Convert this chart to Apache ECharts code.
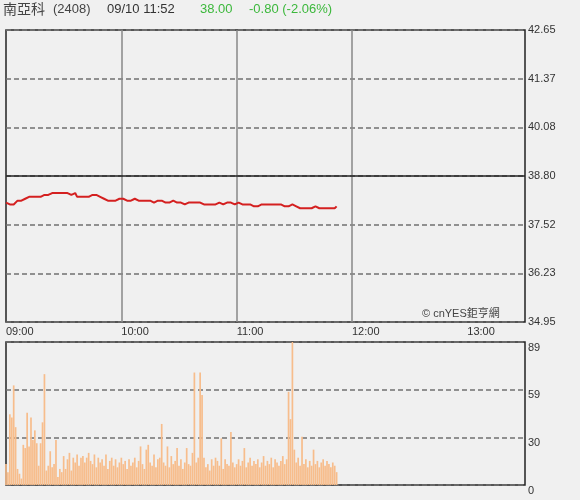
<!DOCTYPE html>
<html>
<head>
<meta charset="utf-8">
<script src="https://cdn.jsdelivr.net/npm/echarts@6/dist/echarts.min.js"></script>
<style>
html,body{margin:0;padding:0;background:#f0f0f0;}
#c{width:580px;height:500px;}
</style>
</head>
<body>
<div id="c"></div>
<script>
// Tick labels (one every 60 minutes from 09:00)
var timeLabels = ['09:00', '10:00', '11:00', '12:00', '13:00'];
var sessionMinutes = 270;          // 09:00 - 13:30
var hourLines = [60, 120, 180];    // vertical grid lines (10:00, 11:00, 12:00)

var prevClose = 38.80;
var priceMin = 34.95;
var priceMax = 42.65;
var volMax = 89;

// Per-minute last price, from 09:00 to 11:52
var price = [
  38.10, 38.10, 38.05, 38.10, 38.05, 38.10, 38.15, 38.15, 38.15, 38.20,
  38.20, 38.20, 38.25, 38.20, 38.25, 38.25, 38.25, 38.30, 38.25, 38.30,
  38.30, 38.30, 38.30, 38.30, 38.35, 38.30, 38.35, 38.35, 38.35, 38.35,
  38.35, 38.30, 38.35, 38.30, 38.30, 38.25, 38.35, 38.25, 38.30, 38.25,
  38.30, 38.25, 38.30, 38.25, 38.25, 38.30, 38.25, 38.30, 38.30, 38.25,
  38.20, 38.20, 38.20, 38.15, 38.20, 38.15, 38.15, 38.15, 38.15, 38.20,
  38.15, 38.20, 38.20, 38.15, 38.15, 38.15, 38.15, 38.20, 38.15, 38.15,
  38.15, 38.15, 38.10, 38.15, 38.10, 38.15, 38.10, 38.10, 38.15, 38.15,
  38.15, 38.15, 38.15, 38.10, 38.15, 38.10, 38.10, 38.15, 38.10, 38.10,
  38.10, 38.10, 38.10, 38.05, 38.10, 38.10, 38.05, 38.10, 38.05, 38.10,
  38.05, 38.10, 38.05, 38.05, 38.05, 38.05, 38.05, 38.05, 38.10, 38.05,
  38.05, 38.10, 38.10, 38.05, 38.10, 38.10, 38.05, 38.10, 38.10, 38.05,
  38.10, 38.10, 38.05, 38.05, 38.05, 38.05, 38.00, 38.05, 38.05, 38.00,
  38.05, 38.00, 38.00, 38.05, 38.05, 38.05, 38.10, 38.05, 38.05, 38.05,
  38.05, 38.05, 38.05, 38.05, 38.05, 38.00, 38.05, 38.00, 38.00, 38.05,
  38.00, 38.00, 38.00, 37.95, 38.00, 37.95, 37.95, 37.95, 38.00, 37.95,
  38.00, 38.00, 38.00, 37.95, 38.00, 37.95, 37.95, 37.95, 37.90, 37.95,
  37.95, 37.95, 38.00
];

// Per-minute volume
var volume = [
  13, 8, 44, 42, 62, 36, 10, 7, 4, 25,
  23, 45, 24, 42, 28, 34, 26, 12, 26, 39,
  69, 9, 12, 21, 11, 13, 28, 5, 10, 8,
  18, 10, 16, 20, 9, 17, 14, 19, 12, 17,
  18, 14, 17, 20, 15, 13, 19, 11, 17, 14,
  16, 12, 19, 10, 15, 17, 12, 16, 11, 14,
  17, 13, 15, 10, 16, 12, 14, 17, 11, 15,
  24, 13, 10, 22, 25, 14, 12, 19, 11, 16,
  17, 38, 14, 12, 24, 11, 18, 13, 15, 23,
  12, 16, 10, 14, 23, 13, 12, 20, 70, 14,
  17, 70, 56, 17, 11, 13, 9, 16, 12, 17,
  15, 12, 29, 10, 16, 13, 12, 33, 14, 11,
  13, 16, 12, 15, 23, 11, 14, 17, 12, 15,
  13, 16, 11, 14, 18, 12, 15, 13, 17, 11,
  16, 14, 12, 15, 18, 13, 16, 58, 41, 89,
  22, 14, 17, 12, 30, 13, 16, 11, 15, 12,
  22, 13, 15, 11, 14, 16, 12, 15, 13, 11,
  14, 12, 8
];

var FONT = '"Liberation Sans", Arial, "Noto Sans CJK TC", sans-serif';
var chart = echarts.init(document.getElementById('c'), null, {renderer: 'canvas'});

var option = {
  backgroundColor: '#f0f0f0',
  animation: false,
  textStyle: {fontFamily: FONT},
  graphic: [
    {type: 'text', left: 3, top: 2, style: {text: '南亞科', fontSize: 14, fill: '#444', fontFamily: '"Noto Sans CJK TC", sans-serif'}},
    {type: 'text', left: 53, top: 3, style: {text: '(2408)', fontSize: 13, fill: '#444', fontFamily: FONT}},
    {type: 'text', left: 107, top: 3, style: {text: '09/10 11:52', fontSize: 13, fill: '#333', fontFamily: FONT}},
    {type: 'text', left: 200, top: 3, style: {text: '38.00', fontSize: 13, fill: '#3cb83c', fontFamily: FONT}},
    {type: 'text', left: 249, top: 3, style: {text: '-0.80 (-2.06%)', fontSize: 13, fill: '#3cb83c', fontFamily: FONT}},
    {type: 'text', left: 422, top: 308, z: 100, style: {text: '© cnYES鉅亨網', fontSize: 11, fill: '#444', fontFamily: FONT}}
  ],
  grid: [
    {left: 6, top: 30, width: 519, height: 292, show: true, borderColor: '#222', borderWidth: 1.5, backgroundColor: 'transparent'},
    {left: 6, top: 342, width: 519, height: 143, show: true, borderColor: '#222', borderWidth: 1.5, backgroundColor: 'transparent'}
  ],
  xAxis: [
    {
      type: 'value', gridIndex: 0, min: 0, max: sessionMinutes, interval: 60,
      axisLine: {show: false}, axisTick: {show: false}, splitLine: {show: false},
      axisLabel: {
        show: true, align: 'left', margin: 4, color: '#333', fontSize: 11, fontFamily: FONT,
        showMaxLabel: false,
        formatter: function (v) { var i = Math.round(v / 60); return timeLabels[i] || ''; }
      }
    },
    {
      type: 'value', gridIndex: 1, min: 0, max: sessionMinutes, interval: 60,
      axisLine: {show: false}, axisTick: {show: false}, splitLine: {show: false}, axisLabel: {show: false}
    }
  ],
  yAxis: [
    {
      type: 'value', gridIndex: 0, position: 'right', min: priceMin, max: priceMax, interval: (priceMax - priceMin) / 6,
      axisLine: {show: false}, axisTick: {show: false},
      splitLine: {show: true, lineStyle: {color: '#707070', width: 1.5, type: [5, 3]}},
      axisLabel: {color: '#333', fontSize: 11, margin: 3, fontFamily: FONT, formatter: function (v) { return v.toFixed(2); }}
    },
    {
      type: 'value', gridIndex: 1, position: 'right', min: 0, max: volMax, interval: volMax / 3,
      axisLine: {show: false}, axisTick: {show: false},
      splitLine: {show: true, lineStyle: {color: '#707070', width: 1.5, type: [5, 3]}},
      axisLabel: {color: '#333', fontSize: 11, margin: 3, verticalAlign: 'top', fontFamily: FONT, formatter: function (v) { return String(Math.round(v)); }}
    }
  ],
  series: [
    {
      type: 'line', xAxisIndex: 0, yAxisIndex: 0,
      data: price.map(function (v, i) { return [i, v]; }),
      showSymbol: false, symbol: 'none',
      lineStyle: {color: '#d42020', width: 2},
      z: 5,
      markLine: {
        silent: true, symbol: 'none', label: {show: false},
        data: hourLines.map(function (m) { return {xAxis: m, lineStyle: {color: '#888', width: 1.5, type: 'solid'}}; })
          .concat([{yAxis: prevClose, lineStyle: {color: '#222', width: 1.5, type: 'solid'}}])
      }
    },
    {
      type: 'bar', xAxisIndex: 1, yAxisIndex: 1,
      data: volume.map(function (v, i) { return [i, v]; }),
      barWidth: 1.7,
      itemStyle: {color: '#f7bd8c'},
      z: 5
    }
  ]
};
chart.setOption(option);
</script>
</body>
</html>
